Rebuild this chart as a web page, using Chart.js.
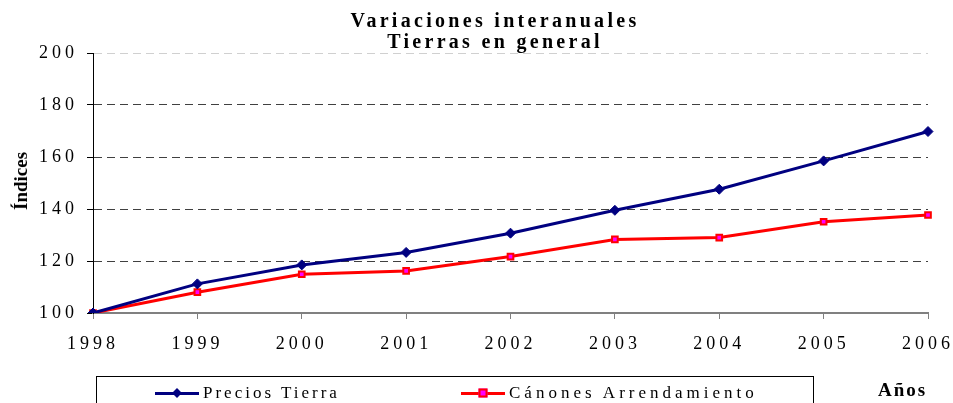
<!DOCTYPE html>
<html>
<head>
<meta charset="utf-8">
<script src="https://cdn.jsdelivr.net/npm/chart.js@4"></script>
<style>
  body { margin: 0; background: #fff; overflow: hidden; }
  #wrap { position: relative; width: 953px; height: 403px; font-family: "Liberation Serif", "Times New Roman", serif; }
  #chart { position: absolute; left: 0; top: 0; }
  .title { position: absolute; left: 195px; width: 600px; top: 10px; text-align: center; font-weight: bold; font-size: 20px; line-height: 21px; letter-spacing: 3.3px; }
  .ytitle { position: absolute; left: 21px; top: 181px; transform: translate(-50%, -50%) rotate(-90deg); font-weight: bold; font-size: 19px; white-space: nowrap; }
  .legend { position: absolute; left: 96px; top: 376px; width: 718px; height: 40px; border: 1px solid #000; box-sizing: border-box; }
  .item { position: absolute; top: 5px; height: 22px; display: flex; align-items: center; font-size: 17px; letter-spacing: 3px; white-space: nowrap; }
  .sym { position: relative; width: 44px; height: 3px; margin-right: 4px; }
  .sym i { position: absolute; left: 50%; top: 50%; }
  .anos { position: absolute; left: 878px; top: 379px; font-weight: bold; font-size: 19px; letter-spacing: 2px; }
</style>
</head>
<body>
<div id="wrap">
  <canvas id="chart" width="953" height="403"></canvas>
  <div class="title">Variaciones interanuales<br>Tierras en general</div>
  <div class="ytitle">Índices</div>
  <div class="legend" id="legend"></div>
  <div class="anos">Años</div>
</div>
<script>
// datos
const years = ['1998', '1999', '2000', '2001', '2002', '2003', '2004', '2005', '2006'];
const preciosTierra = [100, 111.2, 118.5, 123.3, 130.7, 139.5, 147.6, 158.5, 169.8];
const canonesArrendamiento = [100, 108, 114.9, 116.2, 121.7, 128.3, 129, 135.1, 137.7];
const seriesNames = ['Precios Tierra', 'Cánones Arrendamiento'];
const yTicks = [100, 120, 140, 160, 180, 200];

const navy = '#000080';
const red = '#ff0000';

// espaciado de letras para las etiquetas de los ejes
const letterSpacingPlugin = {
  id: 'letterSpacing',
  beforeUpdate(chart) { chart.ctx.letterSpacing = '4px'; },
  beforeDraw(chart) { chart.ctx.letterSpacing = '4px'; }
};

const ctx = document.getElementById('chart');
new Chart(ctx, {
  type: 'line',
  data: {
    labels: years,
    datasets: [{
      label: seriesNames[0],
      data: preciosTierra,
      borderColor: navy,
      backgroundColor: navy,
      borderWidth: 3,
      pointStyle: 'rectRot',
      pointRadius: 5,
      pointBorderWidth: 1,
      tension: 0
    }, {
      label: seriesNames[1],
      data: canonesArrendamiento,
      borderColor: red,
      backgroundColor: '#ff00ff',
      borderWidth: 3,
      pointStyle: 'rect',
      pointRadius: 4,
      pointBorderWidth: 2,
      pointBorderColor: red,
      tension: 0
    }]
  },
  options: {
    responsive: false,
    animation: false,
    layout: { padding: { top: 53, right: 25, bottom: 0, left: 0 } },
    plugins: {
      legend: { display: false },
      title: { display: false },
      tooltip: { enabled: false }
    },
    scales: {
      x: {
        offset: false,
        grid: { drawOnChartArea: false, drawTicks: true, tickLength: 6, color: '#808080' },
        border: { color: '#808080', width: 2 },
        ticks: {
          color: '#000',
          padding: 14,
          maxRotation: 0,
          autoSkip: false,
          font: { family: 'Liberation Serif', size: 18 }
        },
        afterFit(scale) {
          scale.height = 90;
          scale.paddingLeft = 0;
          scale.paddingRight = 0;
        }
      },
      y: {
        min: yTicks[0],
        max: yTicks[yTicks.length - 1],
        afterBuildTicks(scale) {
          scale.ticks = yTicks.map(v => ({ value: v }));
        },
        grid: {
          color(c) {
            const v = c.tick ? c.tick.value : 0;
            if (v === 100) return 'rgba(0,0,0,0)';
            if (v === 200) return '#d0d0d0';
            return '#404040';
          },
          tickColor: '#000',
          tickLength: 6,
          lineWidth: 1
        },
        border: { color: '#000', width: 1, dash: [8, 5] },
        ticks: {
          color: '#000',
          padding: 9,
          font: { family: 'Liberation Serif', size: 18 }
        },
        afterFit(scale) {
          scale.width = 93;
        }
      }
    }
  },
  plugins: [letterSpacingPlugin]
});

// leyenda en caja
const legend = document.getElementById('legend');
const legendPos = [58, 364];
const legendSpacing = ['3px', '4px'];
seriesNames.forEach((name, i) => {
  const item = document.createElement('div');
  item.className = 'item';
  item.style.left = legendPos[i] + 'px';
  item.style.letterSpacing = legendSpacing[i];
  const sym = document.createElement('span');
  sym.className = 'sym';
  const mark = document.createElement('i');
  if (i === 0) {
    sym.style.background = navy;
    mark.style.cssText = 'width:7px;height:7px;background:' + navy + ';transform:translate(-50%,-50%) rotate(45deg);';
  } else {
    sym.style.background = red;
    mark.style.cssText = 'width:5px;height:5px;background:#ff00ff;border:2px solid ' + red + ';transform:translate(-50%,-50%);';
  }
  sym.appendChild(mark);
  item.appendChild(sym);
  item.appendChild(document.createTextNode(name));
  legend.appendChild(item);
});
</script>
</body>
</html>
